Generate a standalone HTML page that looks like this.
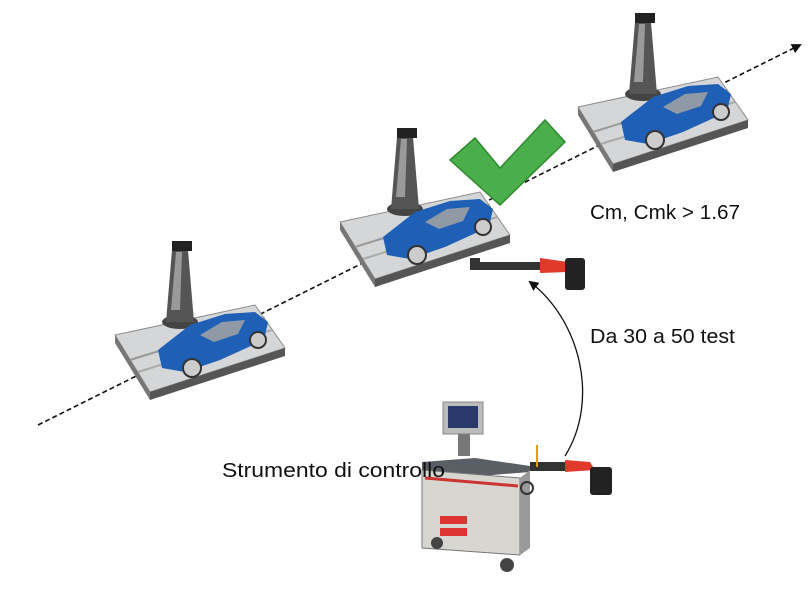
<!DOCTYPE html>
<html><head><meta charset="utf-8"><style>
html,body{margin:0;padding:0;background:#fff;}
svg{display:block}
text{font-family:"Liberation Sans",sans-serif;fill:#111}
</style></head><body>
<svg width="812" height="590" viewBox="0 0 812 590" xmlns="http://www.w3.org/2000/svg">
<defs>
<marker id="ah" markerWidth="10" markerHeight="10" refX="8" refY="5" orient="auto" markerUnits="userSpaceOnUse">
<path d="M0,0 L10,5 L0,10 z" fill="#111"/></marker>
<g id="st">
  <polygon points="115,335 255,305 285,348 150,392" fill="#d4d6d8" stroke="#8a8c8e" stroke-width="1"/>
  <polygon points="150,392 285,348 285,356 150,400" fill="#555"/>
  <polygon points="115,335 150,392 150,400 115,343" fill="#777"/>
  <line x1="130" y1="360" x2="265" y2="318" stroke="#999" stroke-width="2"/>
  <line x1="138" y1="372" x2="272" y2="330" stroke="#aaa" stroke-width="2"/>
  <ellipse cx="180" cy="322" rx="18" ry="7" fill="#444"/>
  <polygon points="166,322 172,250 188,250 194,322" fill="#555"/>
  <polygon points="171,310 176,252 182,252 180,310" fill="#9a9a9a"/>
  <rect x="172" y="241" width="20" height="10" fill="#222"/>
  <polygon points="158,350 190,325 225,314 255,312 268,322 264,340 220,360 185,372 162,368" fill="#1f5fb5"/>
  <polygon points="200,335 222,322 245,320 238,334 214,342" fill="#8f9aa6"/>
  <circle cx="192" cy="368" r="9" fill="#ccc" stroke="#333" stroke-width="2"/>
  <circle cx="258" cy="340" r="8" fill="#ccc" stroke="#333" stroke-width="2"/>
</g>
</defs>
<line x1="38" y1="425" x2="800" y2="45" stroke="#111" stroke-width="1.6" stroke-dasharray="5,3" marker-end="url(#ah)"/>
<use href="#st"/>
<use href="#st" transform="translate(225,-113)"/>
<use href="#st" transform="translate(463,-228)"/>
<polygon points="450,160 475,138 500,168 545,120 565,142 500,205" fill="#4aae4a" stroke="#2e8a2e" stroke-width="1.5"/>
<polygon points="478,262 540,262 545,270 478,270" fill="#333"/>
<rect x="470" y="258" width="10" height="12" fill="#333"/>
<polygon points="540,258 568,262 568,272 540,273" fill="#e03a2a"/>
<rect x="565" y="258" width="20" height="32" rx="3" fill="#222"/>
<path d="M565,456 C600,400 580,320 530,282" fill="none" stroke="#111" stroke-width="1.3" marker-end="url(#ah)"/>
<rect x="443" y="402" width="40" height="32" fill="#bbb" stroke="#888"/>
<rect x="448" y="406" width="30" height="22" fill="#2a3a6a"/>
<rect x="458" y="434" width="12" height="22" fill="#777"/>
<polygon points="422,462 475,458 530,466 530,472 480,476 422,470" fill="#5a5f66"/>
<polygon points="422,470 520,478 520,555 422,548" fill="#d8d6d0" stroke="#777"/>
<polygon points="520,478 530,470 530,548 520,555" fill="#999"/>
<line x1="425" y1="478" x2="518" y2="486" stroke="#c33" stroke-width="3"/>
<rect x="440" y="516" width="27" height="8" fill="#d33"/>
<rect x="440" y="528" width="27" height="8" fill="#d33"/>
<circle cx="437" cy="543" r="6" fill="#444"/><circle cx="507" cy="565" r="7" fill="#444"/>
<rect x="530" y="462" width="48" height="9" fill="#333"/>
<rect x="536" y="445" width="2" height="22" fill="#dca000"/>
<polygon points="565,460 590,462 595,470 565,472" fill="#e03a2a"/>
<rect x="590" y="467" width="22" height="28" rx="3" fill="#222"/>
<circle cx="527" cy="488" r="6" fill="none" stroke="#333" stroke-width="2"/>
<text x="590" y="219" font-size="20" textLength="150" lengthAdjust="spacingAndGlyphs">Cm, Cmk &gt; 1.67</text>
<text x="590" y="343" font-size="20" textLength="145" lengthAdjust="spacingAndGlyphs">Da 30 a 50 test</text>
<text x="222" y="477" font-size="20" textLength="223" lengthAdjust="spacingAndGlyphs">Strumento di controllo</text>
</svg>
</body></html>
